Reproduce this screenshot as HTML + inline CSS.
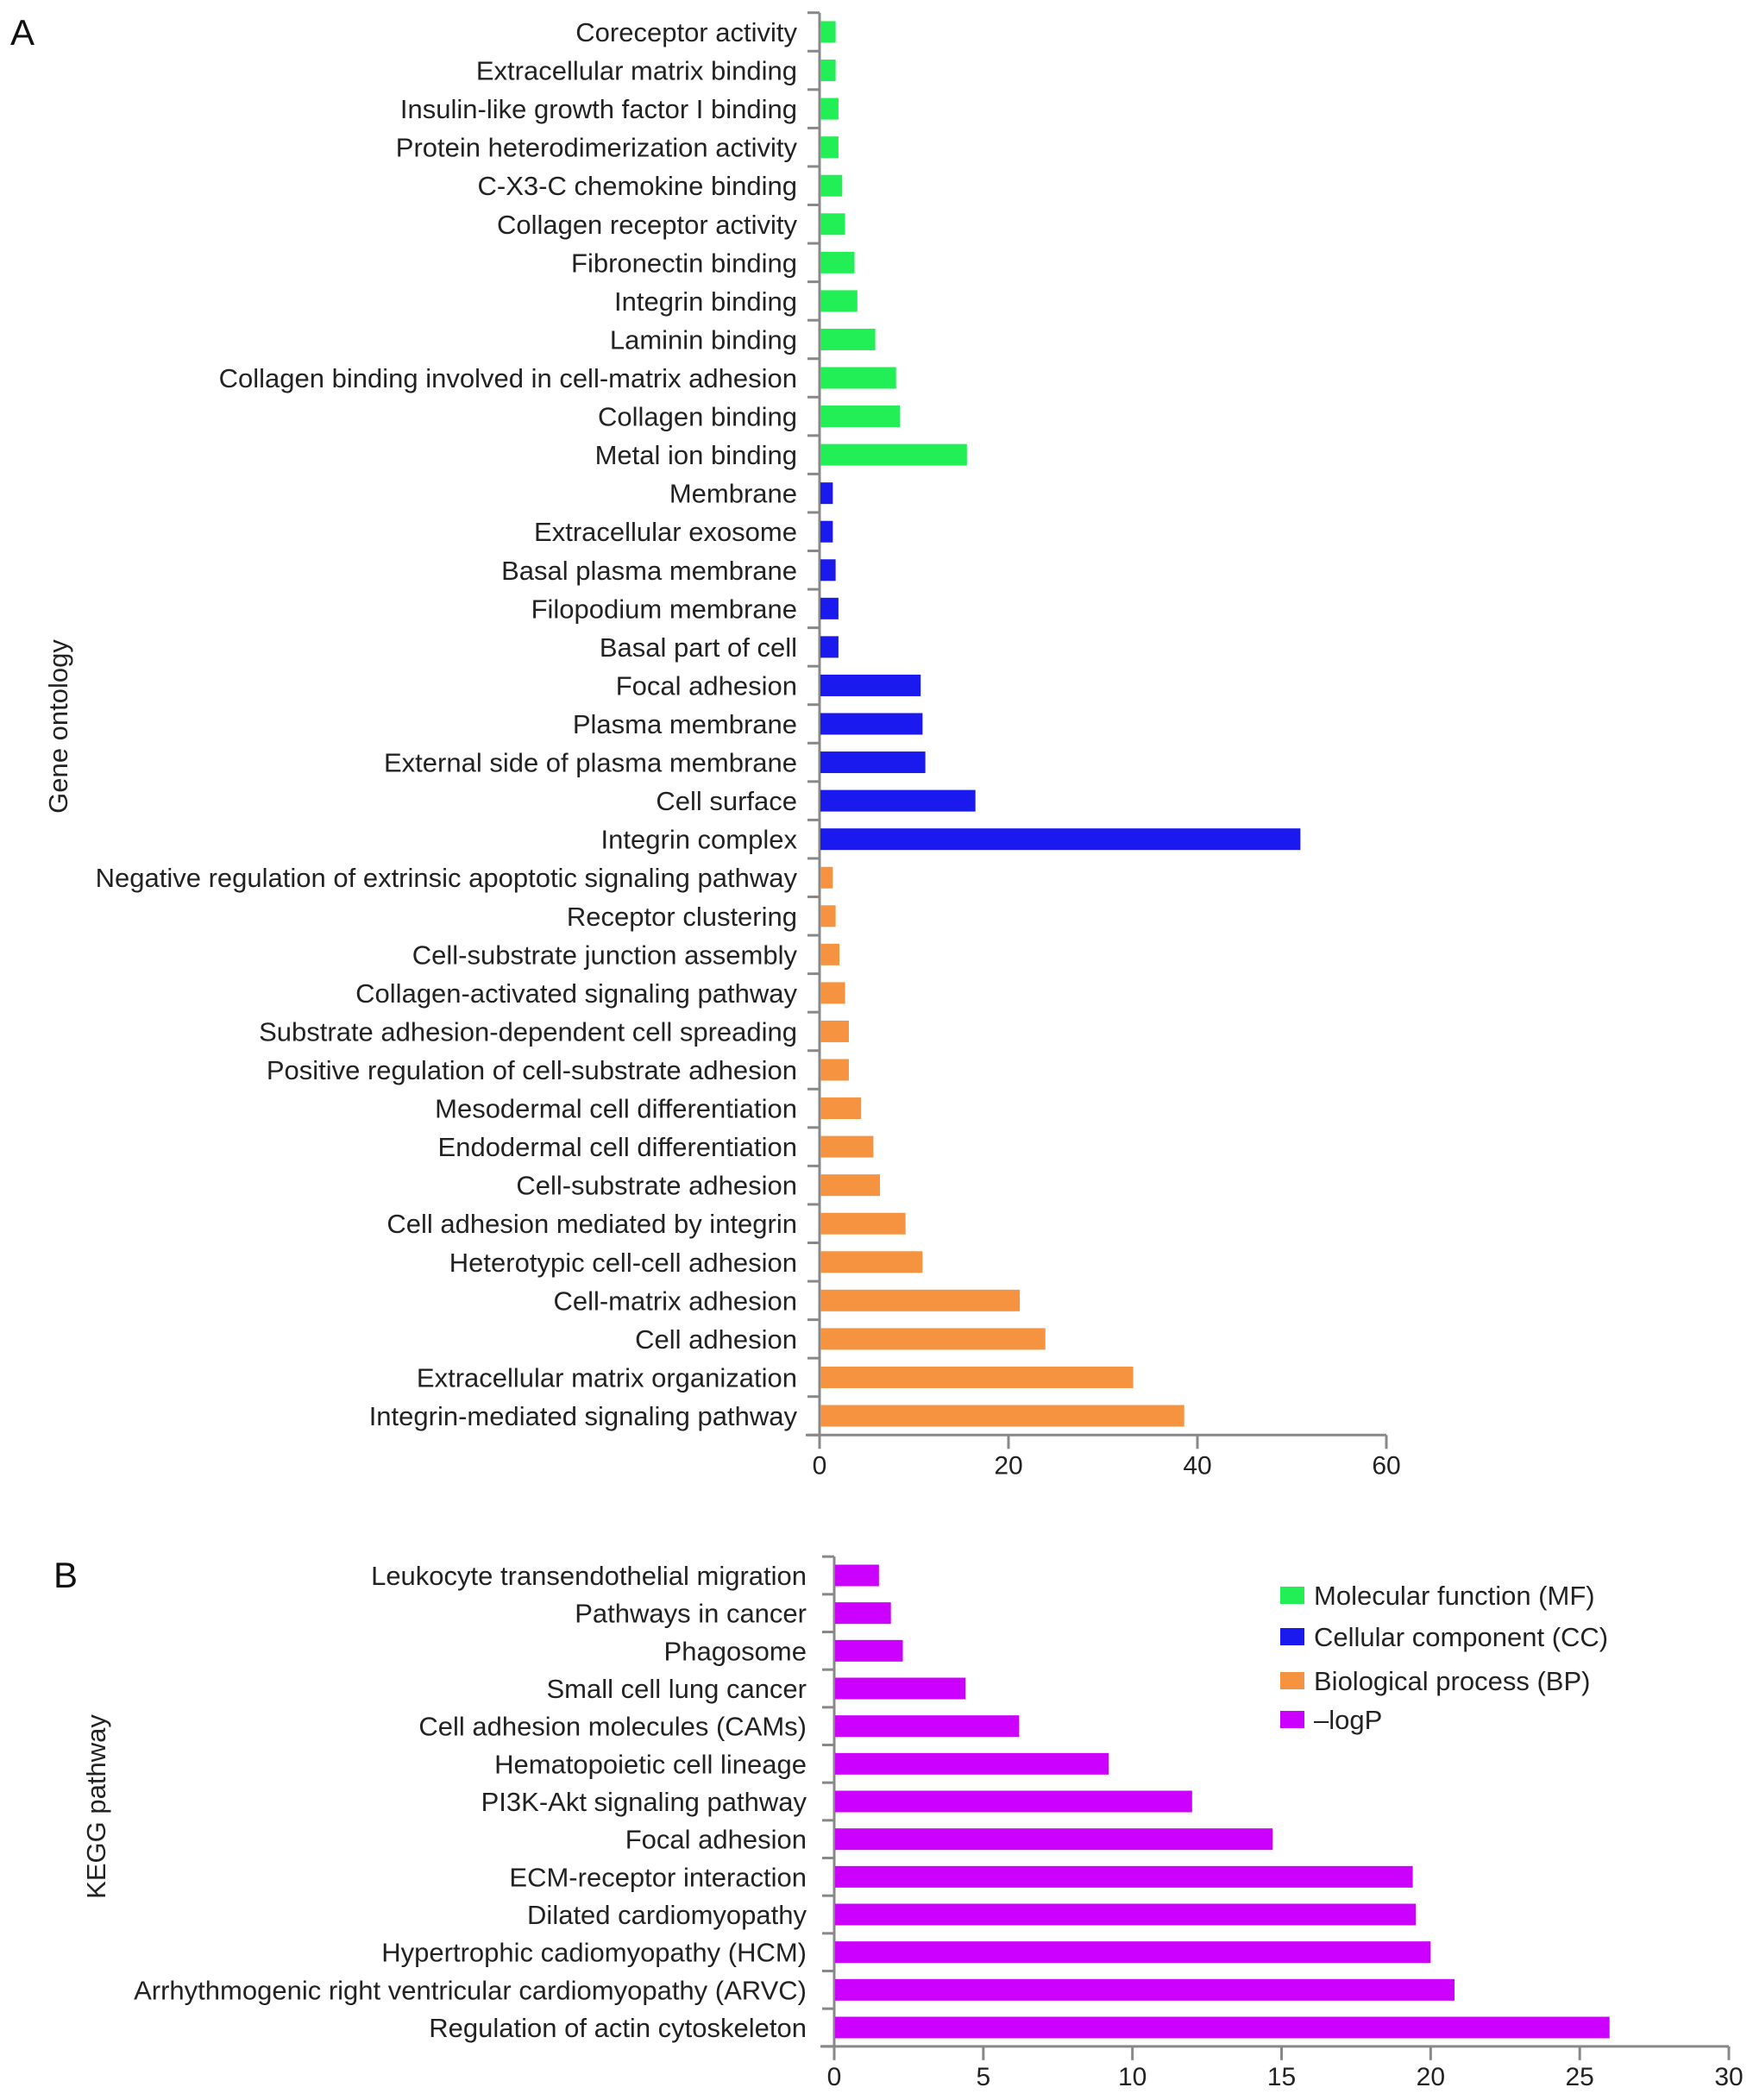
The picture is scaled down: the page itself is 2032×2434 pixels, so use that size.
<!DOCTYPE html>
<html><head><meta charset="utf-8"><style>
html,body{margin:0;padding:0;background:#fff}
svg{display:block;font-family:"Liberation Sans",Arial,sans-serif}
</style></head><body>
<svg id="chart" width="2032" height="2434" viewBox="0 0 2032 2434" xmlns="http://www.w3.org/2000/svg">
<text x="12" y="52" font-size="42" fill="#111">A</text>
<text x="62" y="1840" font-size="42" fill="#111">B</text>
<text transform="translate(78,842) rotate(-90)" text-anchor="middle" font-size="31" fill="#222">Gene ontology</text>
<text transform="translate(122,2094) rotate(-90)" text-anchor="middle" font-size="31" fill="#222">KEGG pathway</text>
<g id="ga"></g><g id="gb"></g>
<g>
<rect x="1484" y="1839" width="28" height="20" fill="#22ee55"/>
<text x="1523" y="1860" font-size="31" fill="#222">Molecular function (MF)</text>
<rect x="1484" y="1887" width="28" height="20" fill="#1a1aee"/>
<text x="1523" y="1908" font-size="31" fill="#222">Cellular component (CC)</text>
<rect x="1484" y="1938" width="28" height="20" fill="#f59340"/>
<text x="1523" y="1959" font-size="31" fill="#222">Biological process (BP)</text>
<rect x="1484" y="1983" width="28" height="20" fill="#cc00ff"/>
<text x="1523" y="2004" font-size="31" fill="#222">–logP</text>
</g>
</svg>
<script>
const goCategories = ["Coreceptor activity","Extracellular matrix binding","Insulin-like growth factor I binding","Protein heterodimerization activity","C-X3-C chemokine binding","Collagen receptor activity","Fibronectin binding","Integrin binding","Laminin binding","Collagen binding involved in cell-matrix adhesion","Collagen binding","Metal ion binding","Membrane","Extracellular exosome","Basal plasma membrane","Filopodium membrane","Basal part of cell","Focal adhesion","Plasma membrane","External side of plasma membrane","Cell surface","Integrin complex","Negative regulation of extrinsic apoptotic signaling pathway","Receptor clustering","Cell-substrate junction assembly","Collagen-activated signaling pathway","Substrate adhesion-dependent cell spreading","Positive regulation of cell-substrate adhesion","Mesodermal cell differentiation","Endodermal cell differentiation","Cell-substrate adhesion","Cell adhesion mediated by integrin","Heterotypic cell-cell adhesion","Cell-matrix adhesion","Cell adhesion","Extracellular matrix organization","Integrin-mediated signaling pathway"];
const goValues = [1.7,1.7,2.0,2.0,2.4,2.7,3.7,4.0,5.9,8.1,8.5,15.6,1.4,1.4,1.7,2.0,2.0,10.7,10.9,11.2,16.5,50.9,1.4,1.7,2.1,2.7,3.1,3.1,4.4,5.7,6.4,9.1,10.9,21.2,23.9,33.2,38.6];
const goGroups = ["MF","MF","MF","MF","MF","MF","MF","MF","MF","MF","MF","MF","CC","CC","CC","CC","CC","CC","CC","CC","CC","CC","BP","BP","BP","BP","BP","BP","BP","BP","BP","BP","BP","BP","BP","BP","BP"];
const goTicks = [0,20,40,60];
const keggCategories = ["Leukocyte transendothelial migration","Pathways in cancer","Phagosome","Small cell lung cancer","Cell adhesion molecules (CAMs)","Hematopoietic cell lineage","PI3K-Akt signaling pathway","Focal adhesion","ECM-receptor interaction","Dilated cardiomyopathy","Hypertrophic cadiomyopathy (HCM)","Arrhythmogenic right ventricular cardiomyopathy (ARVC)","Regulation of actin cytoskeleton"];
const keggValues = [1.5,1.9,2.3,4.4,6.2,9.2,12.0,14.7,19.4,19.5,20.0,20.8,26.0];
const keggTicks = [0,5,10,15,20,25,30];

const NS="http://www.w3.org/2000/svg";
const colors={MF:"#22ee55",CC:"#1a1aee",BP:"#f59340",KEGG:"#cc00ff"};
function mk(parent,tag,attrs){const e=document.createElementNS(NS,tag);for(const k in attrs)e.setAttribute(k,attrs[k]);parent.appendChild(e);return e;}

function drawPanel(g,cfg){
  const n=cfg.cats.length;
  const step=(cfg.yLast-cfg.yFirst)/(n-1);
  const xs=v=>cfg.x0+(v-cfg.tmin)/(cfg.tmax-cfg.tmin)*(cfg.x1-cfg.x0);
  const yc=i=>cfg.yFirst+i*step;
  const top=cfg.yFirst-step/2, bot=cfg.yLast+step/2;
  const ax=mk(g,"line",{x1:cfg.x0,y1:top,x2:cfg.x0,y2:bot,stroke:"#888","stroke-width":3});
  
  
  const bx=mk(g,"line",{x1:cfg.x0-16,y1:bot,x2:cfg.x1,y2:bot,stroke:"#888","stroke-width":3});
  
  
  for(let i=0;i<=n;i++){
    const t=mk(g,"line",{x1:cfg.x0-14,y1:top+i*step,x2:cfg.x0,y2:top+i*step,stroke:"#888","stroke-width":3});
    
    
  }
  cfg.ticks.forEach(v=>{
    const x=xs(v);
    const t=mk(g,"line",{x1:x,y1:bot,x2:x,y2:bot+16,stroke:"#888","stroke-width":3});
    
    
    const l=mk(g,"text",{x:x,y:bot+45,"text-anchor":"middle","font-size":30,fill:"#222"});
    l.textContent=v;
    
    
  });
  cfg.cats.forEach((c,i)=>{
    const y=yc(i);
    const l=mk(g,"text",{x:cfg.labelX,y:y+11,"text-anchor":"end","font-size":31,fill:"#222"});
    l.textContent=c;
    
    
    const b=mk(g,"rect",{x:cfg.x0+1,y:y-12.5,width:Math.max(0,xs(cfg.vals[i])-cfg.x0-1),height:25,fill:cfg.color(i)});
    
    
  });
}
drawPanel(document.getElementById("ga"),{prefix:"go",cats:goCategories,vals:goValues,ticks:goTicks,tmin:0,tmax:60,x0:950,x1:1607,yFirst:37,yLast:1641,labelX:924,color:i=>colors[goGroups[i]]});
drawPanel(document.getElementById("gb"),{prefix:"kegg",cats:keggCategories,vals:keggValues,ticks:keggTicks,tmin:0,tmax:30,x0:967,x1:2004,yFirst:1826,yLast:2350,labelX:935,color:()=>colors.KEGG});
</script>
</body></html>
